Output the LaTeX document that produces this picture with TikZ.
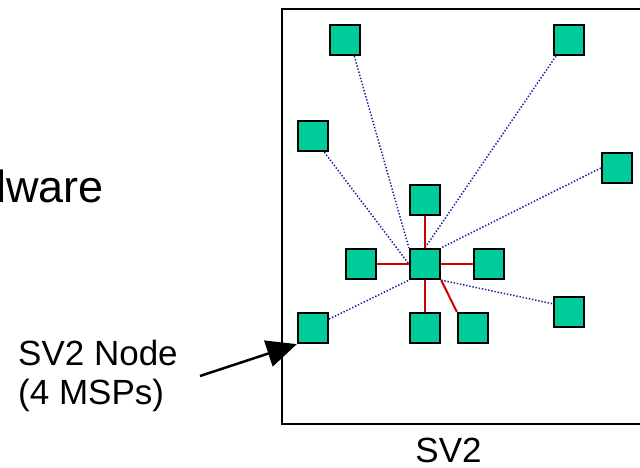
\documentclass[tikz,border=0pt]{standalone}
\usepackage{fontspec}
\setmainfont{Liberation Sans}
\usetikzlibrary{arrows.meta}
\definecolor{msp}{RGB}{0,204,153}
\definecolor{linkred}{RGB}{204,0,0}
\definecolor{linkblue}{RGB}{30,30,160}
\begin{document}
\begin{tikzpicture}[x=1pt,y=-1pt,
  mspbox/.style={draw=black, line width=1.8pt, fill=msp, minimum size=30.5pt, inner sep=0pt},
  redlink/.style={draw=linkred, line width=2pt},
  bluelink/.style={draw=linkblue, line width=1.5pt, dash pattern=on 1.4pt off 1.8pt},
  txt/.style={font=\fontsize{35}{40}\selectfont, inner sep=0pt},
  bigtxt/.style={font=\fontsize{45}{52}\selectfont, inner sep=0pt}
]
\useasboundingbox (0,0) rectangle (640,467);
\clip (0,0) rectangle (640,467);

% system frame (runs off the right edge)
\node[draw=black, line width=1.5pt, anchor=north west, minimum width=400pt,
      minimum height=415pt, inner sep=0pt] (frame) at (281,8) {};

% text
\node[bigtxt, anchor=base west] (hw) at (-4,202) {lware};
\node[txt, anchor=base west] (lblA) at (18,365) {SV2 Node};
\node[txt, anchor=base west] (lblB) at (18,404) {(4 MSPs)};
\node[txt, anchor=base] (sv) at (448.5,462) {SV2};

% MSP nodes
\node[mspbox] (A) at (345,40) {};
\node[mspbox] (B) at (569,40) {};
\node[mspbox] (C) at (313,136) {};
\node[mspbox] (D) at (617,168) {};
\node[mspbox] (E) at (425,200) {};
\node[mspbox] (F) at (425,264) {};
\node[mspbox] (G) at (361,264) {};
\node[mspbox] (H) at (489,264) {};
\node[mspbox] (I) at (313,328) {};
\node[mspbox] (J) at (425,328) {};
\node[mspbox] (K) at (473,328) {};
\node[mspbox] (L) at (569,312) {};

% remote links
\draw[bluelink] (A.300) -- (F.north west);
\draw[bluelink] (B.231) -- (F.north);
\draw[bluelink] (C.305) -- (F.west);
\draw[bluelink] (D.west) -- (F.north east);
\draw[bluelink] (I.29) -- (F.south west);
\draw[bluelink] (F.south east) -- (L.153);

% local links
\draw[redlink] (E.south) -- (F.north);
\draw[redlink] (G.east) -- (F.west);
\draw[redlink] (F.east) -- (H.west);
\draw[redlink] (F.south) -- (J.north);
\draw[redlink] (F.south east) -- (K.north west);

% pointer to a node
\coordinate (ptr) at (200,376);
\draw[line width=2.5pt, -{Triangle[length=30pt,width=27pt]}] (ptr) -- (I.south west);
\end{tikzpicture}
\end{document}
